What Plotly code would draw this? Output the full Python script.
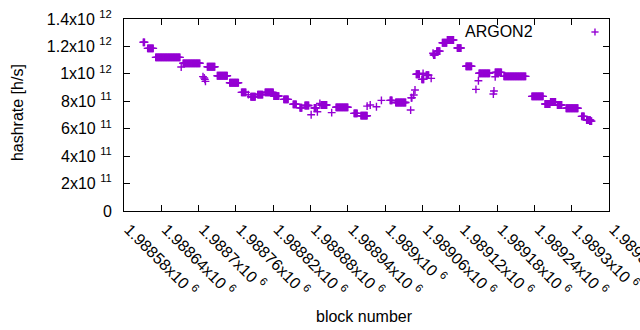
import plotly.graph_objects as go

# Runs of constant hashrate: first block, last block, hashrate [h/s]
seg_start = [1988611, 1988618, 1988631, 1988672, 1988675, 1988707, 1988709, 1988710, 1988711,
             1988714, 1988730, 1988750, 1988769, 1988780, 1988784, 1988795, 1988807, 1988821,
             1988837, 1988852, 1988863, 1988871, 1988881, 1988886, 1988891, 1988895, 1988897,
             1988914, 1988921, 1988950, 1988961, 1988971, 1988976, 1988984, 1988986, 1988994,
             1989008, 1989017, 1989041, 1989042, 1989046, 1989048, 1989050, 1989059, 1989061,
             1989066, 1989074, 1989077, 1989078, 1989083, 1989092, 1989100, 1989116, 1989130,
             1989146, 1989150, 1989151, 1989174, 1989175, 1989177, 1989177, 1989191, 1989236,
             1989257, 1989266, 1989277, 1989291, 1989316, 1989324, 1989329]
seg_end   = [1988613, 1988627, 1988670, 1988672, 1988702, 1988707, 1988709, 1988710, 1988711,
             1988726, 1988746, 1988764, 1988776, 1988780, 1988791, 1988803, 1988820, 1988829,
             1988844, 1988857, 1988866, 1988877, 1988881, 1988889, 1988891, 1988895, 1988906,
             1988914, 1988940, 1988955, 1988971, 1988971, 1988976, 1988980, 1988986, 1988994,
             1989011, 1989033, 1989041, 1989043, 1989046, 1989048, 1989055, 1989062, 1989061,
             1989070, 1989074, 1989077, 1989080, 1989088, 1989099, 1989110, 1989122, 1989139,
             1989146, 1989150, 1989168, 1989174, 1989175, 1989177, 1989187, 1989226, 1989254,
             1989265, 1989274, 1989284, 1989310, 1989320, 1989330, 1989332]
seg_value = [1.23e12, 1.186e12, 1.12e12, 1.05e12, 1.077e12, 9.8e11, 9.7e11, 9.6e11, 9.45e11,
             1.052e12, 9.86e11, 9.35e11, 8.65e11, 8.48e11, 8.33e11, 8.49e11, 8.65e11, 8.38e11,
             8.14e11, 7.78e11, 7.53e11, 7.69e11, 7.02e11, 7.51e11, 7.24e11, 7.85e11, 7.73e11,
             7.17e11, 7.56e11, 7.12e11, 6.95e11, 7.65e11, 7.73e11, 7.91e11, 7.6e11, 8.07e11,
             8.07e11, 7.91e11, 7.36e11, 8.26e11, 8.46e11, 8.82e11, 9.97e11, 9.6e11, 1.004e12,
             9.91e11, 9.67e11, 1.15e12, 1.137e12, 1.166e12, 1.227e12, 1.247e12, 1.188e12, 1.055e12,
             8.87e11, 9.5e11, 1.004e12, 8.53e11, 8.75e11, 9.79e11, 1.011e12, 9.82e11, 8.36e11,
             7.8e11, 7.95e11, 7.73e11, 7.49e11, 6.9e11, 6.63e11, 6.55e11]

x_tick_vals = [1988580, 1988640, 1988700, 1988760, 1988820, 1988880, 1988940,
               1989000, 1989060, 1989120, 1989180, 1989240, 1989300, 1989360]
x_tick_text = ["1.98858x10 <sup>6</sup>", "1.98864x10 <sup>6</sup>", "1.9887x10 <sup>6</sup>",
               "1.98876x10 <sup>6</sup>", "1.98882x10 <sup>6</sup>", "1.98888x10 <sup>6</sup>",
               "1.98894x10 <sup>6</sup>", "1.989x10 <sup>6</sup>", "1.98906x10 <sup>6</sup>",
               "1.98912x10 <sup>6</sup>", "1.98918x10 <sup>6</sup>", "1.98924x10 <sup>6</sup>",
               "1.9893x10 <sup>6</sup>", "1.98936x10 <sup>6</sup>"]
y_tick_vals = [0, 2e11, 4e11, 6e11, 8e11, 1e12, 1.2e12, 1.4e12]
y_tick_text = ["0", "2x10 <sup>11</sup>", "4x10 <sup>11</sup>", "6x10 <sup>11</sup>",
               "8x10 <sup>11</sup>", "1x10 <sup>12</sup>", "1.2x10 <sup>12</sup>",
               "1.4x10 <sup>12</sup>"]
series_name = "ARGON2"

blocks, rates = [], []
for s, e, v in zip(seg_start, seg_end, seg_value):
    for b in range(s, e + 1):
        blocks.append(b)
        rates.append(v)

FONT = "Liberation Sans, Arial, sans-serif"
FS = 16
COLOR = "#9400D3"

fig = go.Figure()
fig.add_trace(go.Scatter(
    x=blocks, y=rates, mode="markers", name=series_name, showlegend=False,
    marker=dict(symbol="cross-thin", size=5.6, color=COLOR,
                line=dict(color=COLOR, width=1.4)),
))

axis_common = dict(showline=True, linecolor="black", linewidth=1, mirror="ticks",
                   ticks="inside", ticklen=6, tickwidth=1, tickcolor="black",
                   showgrid=False, zeroline=False, automargin=False,
                   tickfont=dict(family=FONT, size=FS, color="black"))

fig.update_xaxes(range=[1988580, 1989360], tickmode="array", tickvals=x_tick_vals,
                 ticktext=x_tick_text, tickangle=45, ticklabelshift=5,
                 ticklabelstandoff=2, ticklabeloverflow="allow", **axis_common)
fig.update_yaxes(range=[0, 1.4e12], tickmode="array", tickvals=y_tick_vals,
                 ticktext=y_tick_text, ticklabelstandoff=8, **axis_common)

# legend key (gnuplot style: text then sample symbol to its right)
kx, ky, hx, hy = 0.9711, 0.9323, 0.0074, 0.0185
legend_key = [
    dict(type="line", xref="paper", yref="paper", x0=kx - hx, x1=kx + hx, y0=ky, y1=ky,
         line=dict(color=COLOR, width=1.4)),
    dict(type="line", xref="paper", yref="paper", x0=kx, x1=kx, y0=ky - hy, y1=ky + hy,
         line=dict(color=COLOR, width=1.4)),
]

fig.update_layout(
    width=640, height=330,
    margin=dict(l=124, r=31, t=19, b=119),
    paper_bgcolor="white", plot_bgcolor="white",
    font=dict(family=FONT, size=FS, color="black"),
    showlegend=False,
    shapes=legend_key,
    annotations=[
        dict(text=series_name, xref="paper", yref="paper", x=0.847, y=0.9375,
             xanchor="right", yanchor="middle", showarrow=False,
             font=dict(family=FONT, size=FS, color="black")),
        dict(text="hashrate [h/s]", xref="paper", yref="paper", x=-0.2206, y=0.51,
             xanchor="center", yanchor="middle", textangle=-90, showarrow=False,
             font=dict(family=FONT, size=FS, color="black")),
        dict(text="block number", xref="paper", yref="paper", x=0.495, y=-0.547,
             xanchor="center", yanchor="middle", showarrow=False,
             font=dict(family=FONT, size=FS, color="black")),
    ],
)

fig.write_html("out.html", config={"displayModeBar": False},
               post_script="document.body.style.margin='0';document.body.style.overflow='hidden';")
